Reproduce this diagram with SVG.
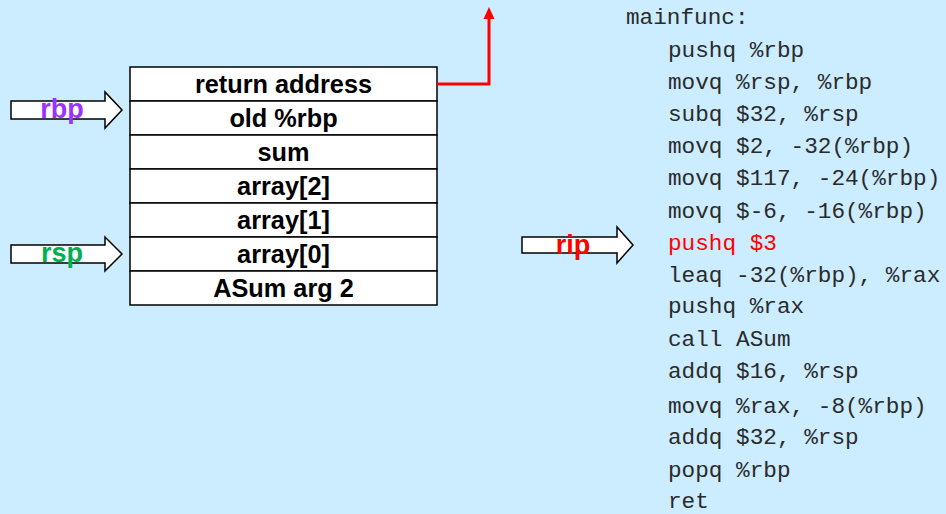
<svg xmlns="http://www.w3.org/2000/svg" width="946" height="514" viewBox="0 0 946 514">
<style>
.cell{fill:#fff;stroke:#000;stroke-width:1.5}
.st{font-family:"Liberation Sans",Arial,sans-serif;font-weight:bold;font-size:25.3px;text-anchor:middle;fill:#000}
.lbl{font-family:"Liberation Sans",Arial,sans-serif;font-weight:bold;font-size:27px;text-anchor:middle}
.blk{fill:#fff;stroke:#000;stroke-width:1.5}
.code{font-family:"Liberation Mono","Courier New",monospace;font-size:22.7px;fill:#2a2a2a}
</style>
<rect width="946" height="514" fill="#CCECFF"/>
<g id="stack">
<g id="cell-ret"><rect class="cell" x="130" y="67" width="307" height="34"/><text class="st" x="283.5" y="93">return address</text></g>
<g id="cell-oldrbp"><rect class="cell" x="130" y="101" width="307" height="34"/><text class="st" x="283.5" y="127">old %rbp</text></g>
<g id="cell-sum"><rect class="cell" x="130" y="135" width="307" height="34"/><text class="st" x="283.5" y="161">sum</text></g>
<g id="cell-a2"><rect class="cell" x="130" y="169" width="307" height="34"/><text class="st" x="283.5" y="195">array[2]</text></g>
<g id="cell-a1"><rect class="cell" x="130" y="203" width="307" height="34"/><text class="st" x="283.5" y="229">array[1]</text></g>
<g id="cell-a0"><rect class="cell" x="130" y="237" width="307" height="34"/><text class="st" x="283.5" y="263">array[0]</text></g>
<g id="cell-arg2"><rect class="cell" x="130" y="271" width="307" height="34"/><text class="st" x="283.5" y="297">ASum arg 2</text></g>
</g>
<g id="connectors">
<polyline points="437,84 489,84 489,17" fill="none" stroke="#f00" stroke-width="3"/>
<path d="M483.5,19 L489,7 L494.5,19 Z" fill="#f00"/>
</g>
<g id="rbp-ptr">
<path class="blk" d="M11,101 H105 V92 L122,110 L105,128 V119 H11 Z"/>
<text class="lbl" x="62" y="118" fill="#9933FF">rbp</text>
</g>
<g id="rsp-ptr">
<path class="blk" d="M11,245 H105 V237 L122,254 L105,271 V263 H11 Z"/>
<text class="lbl" x="62" y="262" fill="#00B050">rsp</text>
</g>
<g id="rip-ptr">
<path class="blk" d="M522,237 H617 V227 L633,245 L617,263 V253 H522 Z"/>
<text class="lbl" x="573" y="254" fill="#f00">rip</text>
</g>
<g id="code">
<text class="code" x="626" y="24">mainfunc:</text>
<text class="code" x="668" y="57">pushq %rbp</text>
<text class="code" x="668" y="89">movq %rsp, %rbp</text>
<text class="code" x="668" y="121">subq $32, %rsp</text>
<text class="code" x="668" y="153">movq $2, -32(%rbp)</text>
<text class="code" x="668" y="185">movq $117, -24(%rbp)</text>
<text class="code" x="668" y="218">movq $-6, -16(%rbp)</text>
<text class="code" x="668" y="250" style="fill:#f00">pushq $3</text>
<text class="code" x="668" y="282">leaq -32(%rbp), %rax</text>
<text class="code" x="668" y="313">pushq %rax</text>
<text class="code" x="668" y="346">call ASum</text>
<text class="code" x="668" y="378">addq $16, %rsp</text>
<text class="code" x="668" y="413">movq %rax, -8(%rbp)</text>
<text class="code" x="668" y="444">addq $32, %rsp</text>
<text class="code" x="668" y="477">popq %rbp</text>
<text class="code" x="668" y="508">ret</text>
</g>
</svg>
